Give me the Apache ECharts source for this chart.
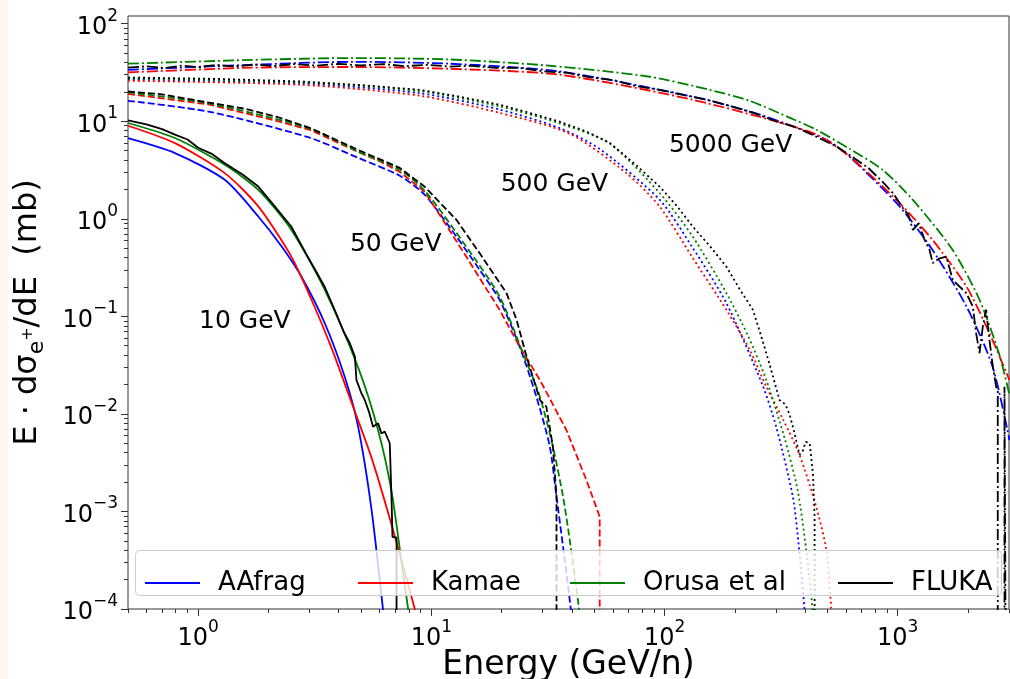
<!DOCTYPE html>
<html>
<head>
<meta charset="utf-8">
<title>E dsigma/dE positrons</title>
<script src="https://cdn.jsdelivr.net/npm/echarts@6.0.0/dist/echarts.min.js"></script>
<style>
  html, body { margin: 0; padding: 0; background: #ffffff; }
  #main { width: 1010px; height: 679px; }
</style>
</head>
<body>
<div id="main"></div>
<script>
// [E (GeV/n), E dsigma/dE (mb)]
// 10 GeV, solid
const aafrag10 = [[0.5, 6.7], [0.795, 4.72], [1.3, 2.51], [1.81, 1.056], [2.28, 0.52], [2.77, 0.256], [3.49, 0.085], [4.25, 0.024], [4.85, 0.0074], [5.54, 0.00104], [6.2, 0.0001], [6.4, 0.00005]]
const kamae10 = [[0.5, 9.0], [0.795, 5.97], [1.3, 2.94], [1.81, 1.34], [2.51, 0.41], [3.06, 0.148], [3.73, 0.0475], [4.55, 0.013], [5.54, 0.00354], [6.75, 0.00073], [8.49, 0.0001], [8.8, 0.00007]]
const orusa10 = [[0.5, 9.6], [0.795, 6.73], [1.3, 3.58], [1.81, 1.98], [2.51, 0.77], [3.49, 0.187], [4.85, 0.03], [5.91, 0.0068], [6.75, 0.0016], [7.44, 0.00031], [7.95, 0.0001], [8.3, 0.00005]]
const fluka10 = [[0.5, 10.2], [0.6, 9.3], [0.7, 8.3], [0.795, 7.3], [0.9, 6.5], [1.0, 5.35], [1.15, 4.6], [1.3, 3.72], [1.55, 2.85], [1.81, 2.14], [2.1, 1.4], [2.51, 0.83], [2.9, 0.44], [3.2, 0.29], [3.49, 0.2], [3.9, 0.108], [4.2, 0.07], [4.47, 0.053], [4.7, 0.0387], [4.77, 0.0223], [5.01, 0.0163], [5.18, 0.0139], [5.4, 0.0105], [5.62, 0.0074], [5.91, 0.008], [6.11, 0.0063], [6.31, 0.0066], [6.63, 0.005], [6.75, 0.00131], [6.81, 0.00055], [7.09, 0.00054], [7.09, 0.00005]]

// 50 GeV, dashed
const aafrag50 = [[0.5, 16.2], [1.12, 12.5], [3.01, 6.78], [4.84, 4.23], [7.32, 2.76], [9.37, 1.76], [12.8, 0.658], [16.1, 0.3], [19.6, 0.148], [23.9, 0.049], [28.2, 0.015], [32.2, 0.00462], [34.4, 0.00142], [36.7, 0.000435], [39.2, 0.000124], [40, 0.00008]]
const kamae50 = [[0.5, 19.1], [1.12, 14.8], [2.0, 10.6], [3.01, 8.18], [4.84, 4.86], [6.0, 3.9], [7.32, 3.03], [9.37, 1.89], [11.2, 0.977], [14.1, 0.41], [19.6, 0.117], [23.9, 0.049], [29.2, 0.0223], [37.9, 0.00686], [46.2, 0.0021], [52.7, 0.000885], [52.7, 0.00005]]
const orusa50 = [[0.5, 19.8], [1.12, 15.2], [3.01, 8.4], [4.84, 4.9], [7.32, 3.18], [9.37, 1.94], [14.1, 0.52], [19.6, 0.16], [24.7, 0.042], [29.2, 0.015], [33.2, 0.00462], [36.7, 0.00142], [39.2, 0.00051], [42.5, 0.000124], [43.5, 0.00007]]
const fluka50 = [[0.5, 20.2], [0.7, 18.9], [1.12, 15.5], [1.6, 13.4], [2.2, 11.0], [3.01, 8.57], [4.84, 5.1], [7.32, 3.33], [9.37, 2.13], [12.8, 0.977], [16.1, 0.445], [21.0, 0.173], [23.2, 0.092], [25.6, 0.0387], [29.2, 0.0139], [31.1, 0.0119], [33.2, 0.00462], [34.4, 0.00142], [34.4, 0.00005]]

// 500 GeV, dotted
const aafrag500 = [[0.5, 27.0], [2.73, 24.5], [8.92, 19.4], [19.6, 13.2], [35.5, 8.5], [52.7, 5.2], [95.2, 1.57], [132, 0.505], [184, 0.137], [263, 0.0198], [301, 0.0074], [355, 0.00141], [378, 0.0004], [398, 0.0001], [402, 0.00006]]
const kamae500 = [[0.5, 26.0], [2.73, 23.7], [8.92, 18.3], [19.6, 12.2], [39.2, 7.45], [68.6, 2.94], [95.2, 1.34], [132, 0.398], [184, 0.117], [232, 0.0453], [273, 0.019], [322, 0.0088], [379, 0.0038], [447, 0.00112], [494, 0.000403], [519, 0.0001], [528, 0.00006]]
const orusa500 = [[0.5, 27.5], [2.73, 25.1], [8.92, 20.4], [19.6, 14.2], [35.5, 9.5], [58.2, 5.9], [95.2, 1.84], [132, 0.658], [184, 0.174], [227, 0.0646], [273, 0.0223], [327, 0.00567], [372, 0.00166], [405, 0.000403], [431, 0.0001], [436, 0.00006]]
const fluka500 = [[0.5, 28.1], [1.2, 27.2], [2.73, 25.6], [5, 23.5], [8.92, 21.0], [13, 18.0], [19.6, 14.8], [27, 12.0], [35.5, 9.9], [46, 7.9], [58.2, 6.0], [75, 3.6], [95.2, 2.14], [113, 1.35], [132, 0.834], [157, 0.52], [184, 0.324], [210, 0.19], [239, 0.117], [256, 0.07], [273, 0.042], [292, 0.024], [311, 0.0139], [330, 0.0125], [344, 0.0098], [360, 0.0065], [379, 0.0038], [392, 0.0042], [403, 0.00516], [410, 0.0052], [419, 0.005], [426, 0.0035], [433, 0.00237], [440, 0.000885], [440, 0.00005]]

// 5000 GeV, dash-dot
const aafrag5000 = [[0.5, 33.7], [1.67, 37.9], [4.6, 40.7], [12, 38.9], [35.5, 32.4], [132, 17.9], [256, 11.7], [494, 6.46], [621, 4.35], [1018, 1.34], [1408, 0.481], [1972, 0.126], [2552, 0.0305], [3013, 0.0054]]
const kamae5000 = [[0.5, 31.7], [1.67, 35.4], [4.6, 36.0], [12, 34.5], [35.5, 30.0], [132, 16.6], [433, 7.57], [621, 4.35], [1018, 1.45], [1408, 0.61], [1972, 0.202], [2473, 0.0673], [3013, 0.0223]]
const orusa5000 = [[0.5, 38.9], [1.67, 42.5], [4.6, 44.5], [12, 43.0], [32.2, 37.1], [86.3, 28.6], [156, 21.0], [232, 16.2], [343, 10.9], [448, 8.18], [621, 5.22], [861, 3.18], [1159, 1.57], [1718, 0.481], [2243, 0.148], [2729, 0.0403], [3013, 0.0157]]
const fluka5000 = [[0.5, 35.4], [0.6, 36.6], [0.72, 35.2], [0.85, 37.2], [1.0, 35.9], [1.2, 37.8], [1.45, 36.4], [1.75, 38.2], [2.1, 36.8], [2.6, 38.6], [3.2, 37.2], [4.0, 38.8], [5.0, 37.3], [6.2, 38.6], [7.7, 36.7], [9.5, 37.9], [12, 36.4], [15, 37.0], [19, 35.2], [24, 35.2], [30, 32.5], [38, 31.5], [48, 28.2], [60, 26.5], [75, 23.0], [95, 21.0], [120, 18.6], [150, 16.8], [190, 14.4], [240, 12.2], [300, 10.0], [370, 8.6], [450, 6.9], [540, 5.6], [640, 4.3], [750, 3.3], [860, 2.4], [960, 1.8], [1050, 1.3], [1110, 1.1], [1161, 0.77], [1230, 0.9], [1300, 0.62], [1368, 0.481], [1413, 0.352], [1500, 0.39], [1614, 0.41], [1722, 0.237], [1850, 0.2], [1968, 0.173], [2099, 0.126], [2168, 0.0673], [2243, 0.042], [2316, 0.0785], [2393, 0.117], [2473, 0.0574], [2560, 0.03], [2643, 0.019], [2685, 0.017], [2685, 0.00005], [2869, 0.00005], [2869, 0.019], [2900, 0.00005]]

const models = ['AAfrag', 'Kamae', 'Orusa et al', 'FLUKA']
const colors = ['#0000ff', '#ff0000', '#008000', '#000000']

// energy labels written on the plot, placed in data coordinates
const labelText = ['10 GeV', '50 GeV', '500 GeV', '5000 GeV']
const labelE = [1.585, 7.03, 33.7, 192]
const labelV = [0.089, 0.55, 2.26, 5.7]

const xMajor = [1, 10, 100, 1000]
const yMajor = [1e-4, 1e-3, 1e-2, 1e-1, 1, 10, 100]
const decadesX = [0.1, 1, 10, 100, 1000]
const decadesY = [1e-4, 1e-3, 1e-2, 1e-1, 1, 10]
const mult = [2, 3, 4, 5, 6, 7, 8, 9]
const xMinor = decadesX.flatMap(d => mult.map(m => m * d)).filter(v => v >= 0.5 && v <= 3000)
const yMinor = decadesY.flatMap(d => mult.map(m => m * d))

const FONT = 'DejaVu Sans'
const dashes = ['solid', [7, 3], [2, 3], [11, 3, 2, 3]]
const curves = [
  [aafrag10, kamae10, orusa10, fluka10],
  [aafrag50, kamae50, orusa50, fluka50],
  [aafrag500, kamae500, orusa500, fluka500],
  [aafrag5000, kamae5000, orusa5000, fluka5000]
]

function powLabel (value) {
  const exp = Math.round(Math.log10(value))
  return '{b|10}{e|' + String(exp).replace('-', '\u2212') + '}'
}
const tickRich = {
  b: { fontSize: 24, lineHeight: 32, verticalAlign: 'bottom', color: '#000', fontFamily: FONT },
  e: { fontSize: 17, lineHeight: 19, verticalAlign: 'top', color: '#000', fontFamily: FONT }
}

const series = []
curves.forEach(function (group, i) {
  group.forEach(function (data, j) {
    const noSmooth = j === 3 || data === kamae50
    series.push({
      type: 'line',
      name: models[j],
      data: data,
      symbol: 'none',
      smooth: noSmooth ? false : 0.25,
      clip: true,
      silent: true,
      lineStyle: { color: colors[j], width: 1.8, type: dashes[i] },
      itemStyle: { color: colors[j] },
      z: 2
    })
  })
})

// energy annotations
series.push({
  type: 'custom',
  coordinateSystem: 'cartesian2d',
  data: labelE.map(function (e, i) { return [e, labelV[i], i] }),
  silent: true,
  clip: false,
  z: 3,
  renderItem: function (params, api) {
    const p = api.coord([api.value(0), api.value(1)])
    return {
      type: 'text',
      x: p[0],
      y: p[1],
      style: {
        text: labelText[api.value(2)],
        fill: '#000000',
        font: '25px "DejaVu Sans"',
        align: 'center',
        verticalAlign: 'middle'
      }
    }
  }
})

const legendLeft = [145, 358, 570, 838]
const legends = models.map(function (m, j) {
  return {
    data: [m],
    left: legendLeft[j],
    top: 570,
    padding: 0,
    icon: 'rect',
    itemWidth: 55,
    itemHeight: 2,
    selectedMode: false,
    textStyle: { fontSize: 26, color: '#000', fontFamily: FONT, padding: [0, 0, 0, 13] },
    z: 6
  }
})

const axisCommon = {
  axisLine: { show: false },
  splitLine: { show: false }
}

const chart = echarts.init(document.getElementById('main'))
chart.setOption({
  animation: false,
  textStyle: { fontFamily: FONT },
  grid: {
    left: 128, right: 1, top: 16, bottom: 70,
    outerBoundsMode: 'none', containLabel: false,
    show: true, borderColor: '#333', borderWidth: 1, backgroundColor: 'transparent'
  },
  legend: legends,
  graphic: [{
    type: 'rect',
    left: 135,
    top: 550,
    z: 5,
    shape: { width: 866, height: 45, r: 4 },
    style: { fill: 'rgba(255,255,255,0.8)', stroke: '#cccccc', lineWidth: 1 }
  }, {
    type: 'rect',
    left: 0,
    top: 0,
    z: 0,
    silent: true,
    shape: { width: 8, height: 679 },
    style: { fill: '#fcf8f1' }
  }],
  xAxis: [
    Object.assign({}, axisCommon, {
      type: 'log', logBase: 10, min: 0.5, max: 3000, position: 'bottom',
      axisTick: { show: true, inside: false, length: 7, customValues: xMajor, lineStyle: { color: '#333' } },
      axisLabel: { customValues: xMajor, formatter: powLabel, rich: tickRich, margin: 10 },
      name: 'Energy (GeV/n)', nameLocation: 'middle', nameGap: 40, nameMoveOverlap: false,
      nameTextStyle: { fontSize: 33, color: '#000', fontFamily: FONT }
    }),
    Object.assign({}, axisCommon, {
      type: 'log', logBase: 10, min: 0.5, max: 3000, position: 'bottom',
      axisTick: { show: true, inside: false, length: 4, customValues: xMinor, lineStyle: { color: '#333' } },
      axisLabel: { show: false }
    })
  ],
  yAxis: [
    Object.assign({}, axisCommon, {
      type: 'log', logBase: 10, min: 1e-4, max: 120, position: 'left',
      axisTick: { show: true, inside: false, length: 7, customValues: yMajor, lineStyle: { color: '#333' } },
      axisLabel: { customValues: yMajor, formatter: powLabel, rich: tickRich, margin: 10 },
      name: '{n|E \u00b7 d\u03c3}{s|e}{p|+}{n|/dE  (mb)}', nameLocation: 'middle', nameGap: 80,
      nameTextStyle: {
        fontSize: 32, color: '#000', fontFamily: FONT,
        rich: {
          n: { fontSize: 32, lineHeight: 40, verticalAlign: 'middle', fontFamily: FONT, color: '#000' },
          s: { fontSize: 22, lineHeight: 31, verticalAlign: 'bottom', fontFamily: FONT, color: '#000' },
          p: { fontSize: 16, lineHeight: 16, verticalAlign: 'middle', fontFamily: FONT, color: '#000' }
        }
      }
    }),
    Object.assign({}, axisCommon, {
      type: 'log', logBase: 10, min: 1e-4, max: 120, position: 'left',
      axisTick: { show: true, inside: false, length: 4, customValues: yMinor, lineStyle: { color: '#333' } },
      axisLabel: { show: false }
    })
  ],
  series: series
})
</script>
</body>
</html>
